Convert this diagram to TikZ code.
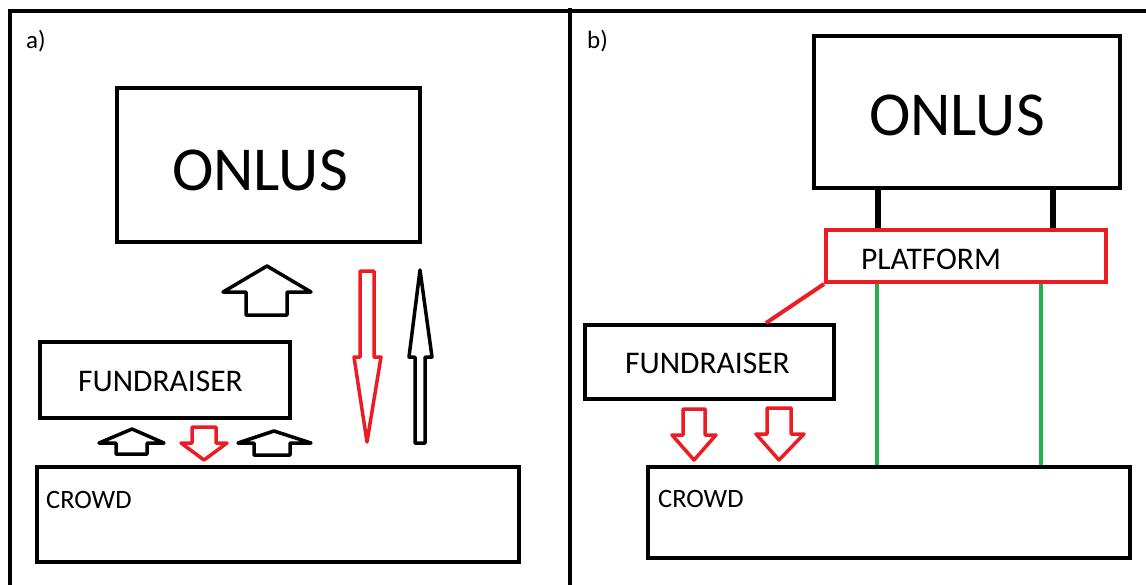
\documentclass[tikz,border=0pt]{standalone}
\usepackage{fontspec}
\setmainfont{Carlito}
\definecolor{pred}{RGB}{237,28,36}
\definecolor{pgreen}{RGB}{34,177,76}
\tikzset{
  box/.style={draw=black, line width=4pt, rectangle, inner sep=0pt},
  redbox/.style={draw=pred, line width=4pt, rectangle, inner sep=0pt},
  frame/.style={draw=black, line width=4pt},
  harrow/.style={draw=black, line width=3.5pt, line join=round},
  rarrow/.style={draw=pred, line width=3.5pt, line join=round},
  txt/.style={inner sep=0pt, anchor=base west, text=black},
  big/.style={font=\fontsize{62.5}{62.5}\selectfont},
  mid/.style={font=\fontsize{31.5}{31.5}\selectfont},
  small/.style={font=\fontsize{26.5}{26.5}\selectfont},
  tag/.style={font=\fontsize{25}{25}\selectfont},
}
\begin{document}
\begin{tikzpicture}[x=1pt,y=-1pt]
\useasboundingbox (0,0) rectangle (1146,584);

% outer frame and divider
\draw[frame] (10,586) -- (10,11) -- (1148,11);
\draw[frame] (570,8) -- (570,586);

% panel labels
\node[txt,tag] (la) at (26,48) {a)};
\node[txt,tag] (lb) at (587,48) {b)};

% ---------- panel a ----------
\node[box, minimum width=303pt, minimum height=154pt] (onlusA) at (268.5,165) {};
\node[box, minimum width=250pt, minimum height=76pt] (fundA) at (165,380) {};
\node[box, minimum width=482pt, minimum height=95pt] (crowdA) at (278,514.5) {};
\node[txt,big] (tOnlusA) at (172,190) {ONLUS};
\node[txt,mid] (tFundA) at (78,391) {FUNDRAISER};
\node[txt,small] (tCrowdA) at (46,508) {CROWD};

% hollow block arrows
\draw[harrow] (246,315) -- (246,292) -- (223,292) -- (267,266) -- (311,292) -- (287,292) -- (287,315) -- cycle;
\draw[rarrow] (360,271) -- (374,271) -- (374,357) -- (381,357) -- (367,442) -- (354,357) -- (360,357) -- cycle;
\draw[harrow] (415,443) -- (415,357) -- (409,357) -- (420,270) -- (432,357) -- (425,357) -- (425,443) -- cycle;
\draw[harrow] (116,454) -- (116,443) -- (99,443) -- (132,429) -- (164,443) -- (147,443) -- (147,454) -- cycle;
\draw[rarrow] (192,427) -- (216,427) -- (216,443) -- (227,443) -- (204,460) -- (181,443) -- (192,443) -- cycle;
\draw[harrow] (254,455) -- (254,443) -- (238,443) -- (274,431) -- (311,443) -- (290,443) -- (290,455) -- cycle;

% ---------- panel b ----------
\node[box, minimum width=306pt, minimum height=152pt] (onlusB) at (967,112) {};
\node[redbox, minimum width=280pt, minimum height=52pt] (platform) at (966,256) {};
\node[box, minimum width=249pt, minimum height=74pt] (fundB) at (709.5,362) {};
\node[box, minimum width=482pt, minimum height=91pt] (crowdB) at (889,512.5) {};
\node[txt,big] (tOnlusB) at (869,135) {ONLUS};
\node[txt,mid] (tPlat) at (861,269) {PLATFORM};
\node[txt,mid] (tFundB) at (625,373) {FUNDRAISER};
\node[txt,small] (tCrowdB) at (658,507) {CROWD};

\coordinate (x1) at (878,0);
\coordinate (x2) at (1053,0);
\coordinate (g1) at (877,0);
\coordinate (g2) at (1041,0);
\coordinate (rf) at (766,0);

% links ONLUS - PLATFORM
\draw[black, line width=6pt] (onlusB.south -| x1) -- (platform.north -| x1);
\draw[black, line width=6pt] (onlusB.south -| x2) -- (platform.north -| x2);
% links PLATFORM - CROWD
\draw[pgreen, line width=4pt] (platform.south -| g1) -- (crowdB.north -| g1);
\draw[pgreen, line width=4pt] (platform.south -| g2) -- (crowdB.north -| g2);
% link PLATFORM - FUNDRAISER
\draw[pred, line width=4pt] (platform.south west) -- (fundB.north -| rf);

% red block arrows towards the crowd
\draw[rarrow] (683,409) -- (705,409) -- (705,435) -- (716,435) -- (694,460) -- (672,435) -- (683,435) -- cycle;
\draw[rarrow] (767,408) -- (791,408) -- (791,434) -- (804,434) -- (779,460) -- (756,434) -- (767,434) -- cycle;
\end{tikzpicture}
\end{document}
